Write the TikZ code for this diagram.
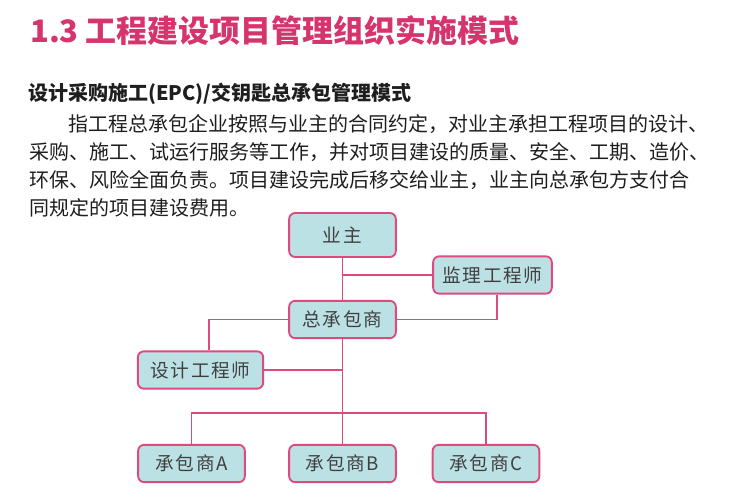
\documentclass[tikz,border=0pt]{standalone}
\usepackage{fontspec}
\setmainfont{Noto Sans CJK SC}
\usepackage{tikz}
\definecolor{titlepink}{RGB}{214,52,108}
\definecolor{boxline}{RGB}{222,74,126}
\definecolor{boxfill}{RGB}{188,225,228}
\definecolor{bodytext}{RGB}{30,30,30}
\tikzset{%
  every box/.style={
    rectangle,
    rounded corners=4.5pt,
    draw=boxline,
    line width=1.4pt,
    fill=boxfill,
    text=black!75,
    font=\fontsize{14pt}{16pt}\selectfont\addfontfeatures{LetterSpace=9},
    minimum height=28pt,
    inner sep=0pt
  },
  link/.style={
    draw=boxline,
    line width=1.1pt
  },
  textline/.style={
    anchor=base west,
    inner sep=0pt,
    text=bodytext,
    font=\fontsize{15pt}{18pt}\selectfont
  },
}

\begin{document}
\begin{tikzpicture}[x=0.75pt, y=-0.75pt]
\useasboundingbox (0,0) rectangle (735,500);
% heading and text
\node[anchor=base west, inner sep=0pt, text=titlepink,
      font=\fontsize{23.2pt}{27pt}\selectfont\bfseries] (title) at (30,42)
      {1.3 工程建设项目管理组织实施模式};
\node[textline, font=\fontsize{15pt}{18pt}\selectfont\bfseries] (subtitle) at (28,100.5)
      {设计采购施工(EPC)/交钥匙总承包管理模式};
\node[textline] (line_1) at (68,131) {指工程总承包企业按照与业主的合同约定，对业主承担工程项目的设计、};
\node[textline] (line_2) at (29,159) {采购、施工、试运行服务等工作，并对项目建设的质量、安全、工期、造价、};
\node[textline] (line_3) at (29,187) {环保、风险全面负责。项目建设完成后移交给业主，业主向总承包方支付合};
\node[textline] (line_4) at (29,215) {同规定的项目建设费用。};
% boxes
\node[every box, minimum width=80pt, minimum height=33pt] (yezhu) at (342.5,235) {业主};
\node[every box, minimum width=89pt] (jianli) at (492.5,275) {监理工程师};
\node[every box, minimum width=80pt] (zcb) at (342.5,319.5) {总承包商};
\node[every box, minimum width=94pt] (sheji) at (200.5,370) {设计工程师};
\node[every box, minimum width=80pt] (cb_A) at (191.5,463.5) {承包商A};
\node[every box, minimum width=80pt] (cb_B) at (342.5,463.5) {承包商B};
\node[every box, minimum width=80pt] (cb_C) at (486,463.5) {承包商C};
\coordinate (bus) at (342.5,413);
% connectors
\draw[link] (yezhu) -- (zcb);
\draw[link] (jianli.west) -- (jianli.west -| yezhu.south);
\draw[link] ([xshift=3.5pt]jianli.south) |- (zcb.east);
\draw[link] (zcb.west) -| ([xshift=6.4pt]sheji.north);
\draw[link] (sheji.east) -- (sheji.east -| zcb.south);
\draw[link] (zcb) -- (cb_B);
\draw[link] (cb_A.north) |- (bus) -| (cb_C.north);
\end{tikzpicture}
\end{document}
